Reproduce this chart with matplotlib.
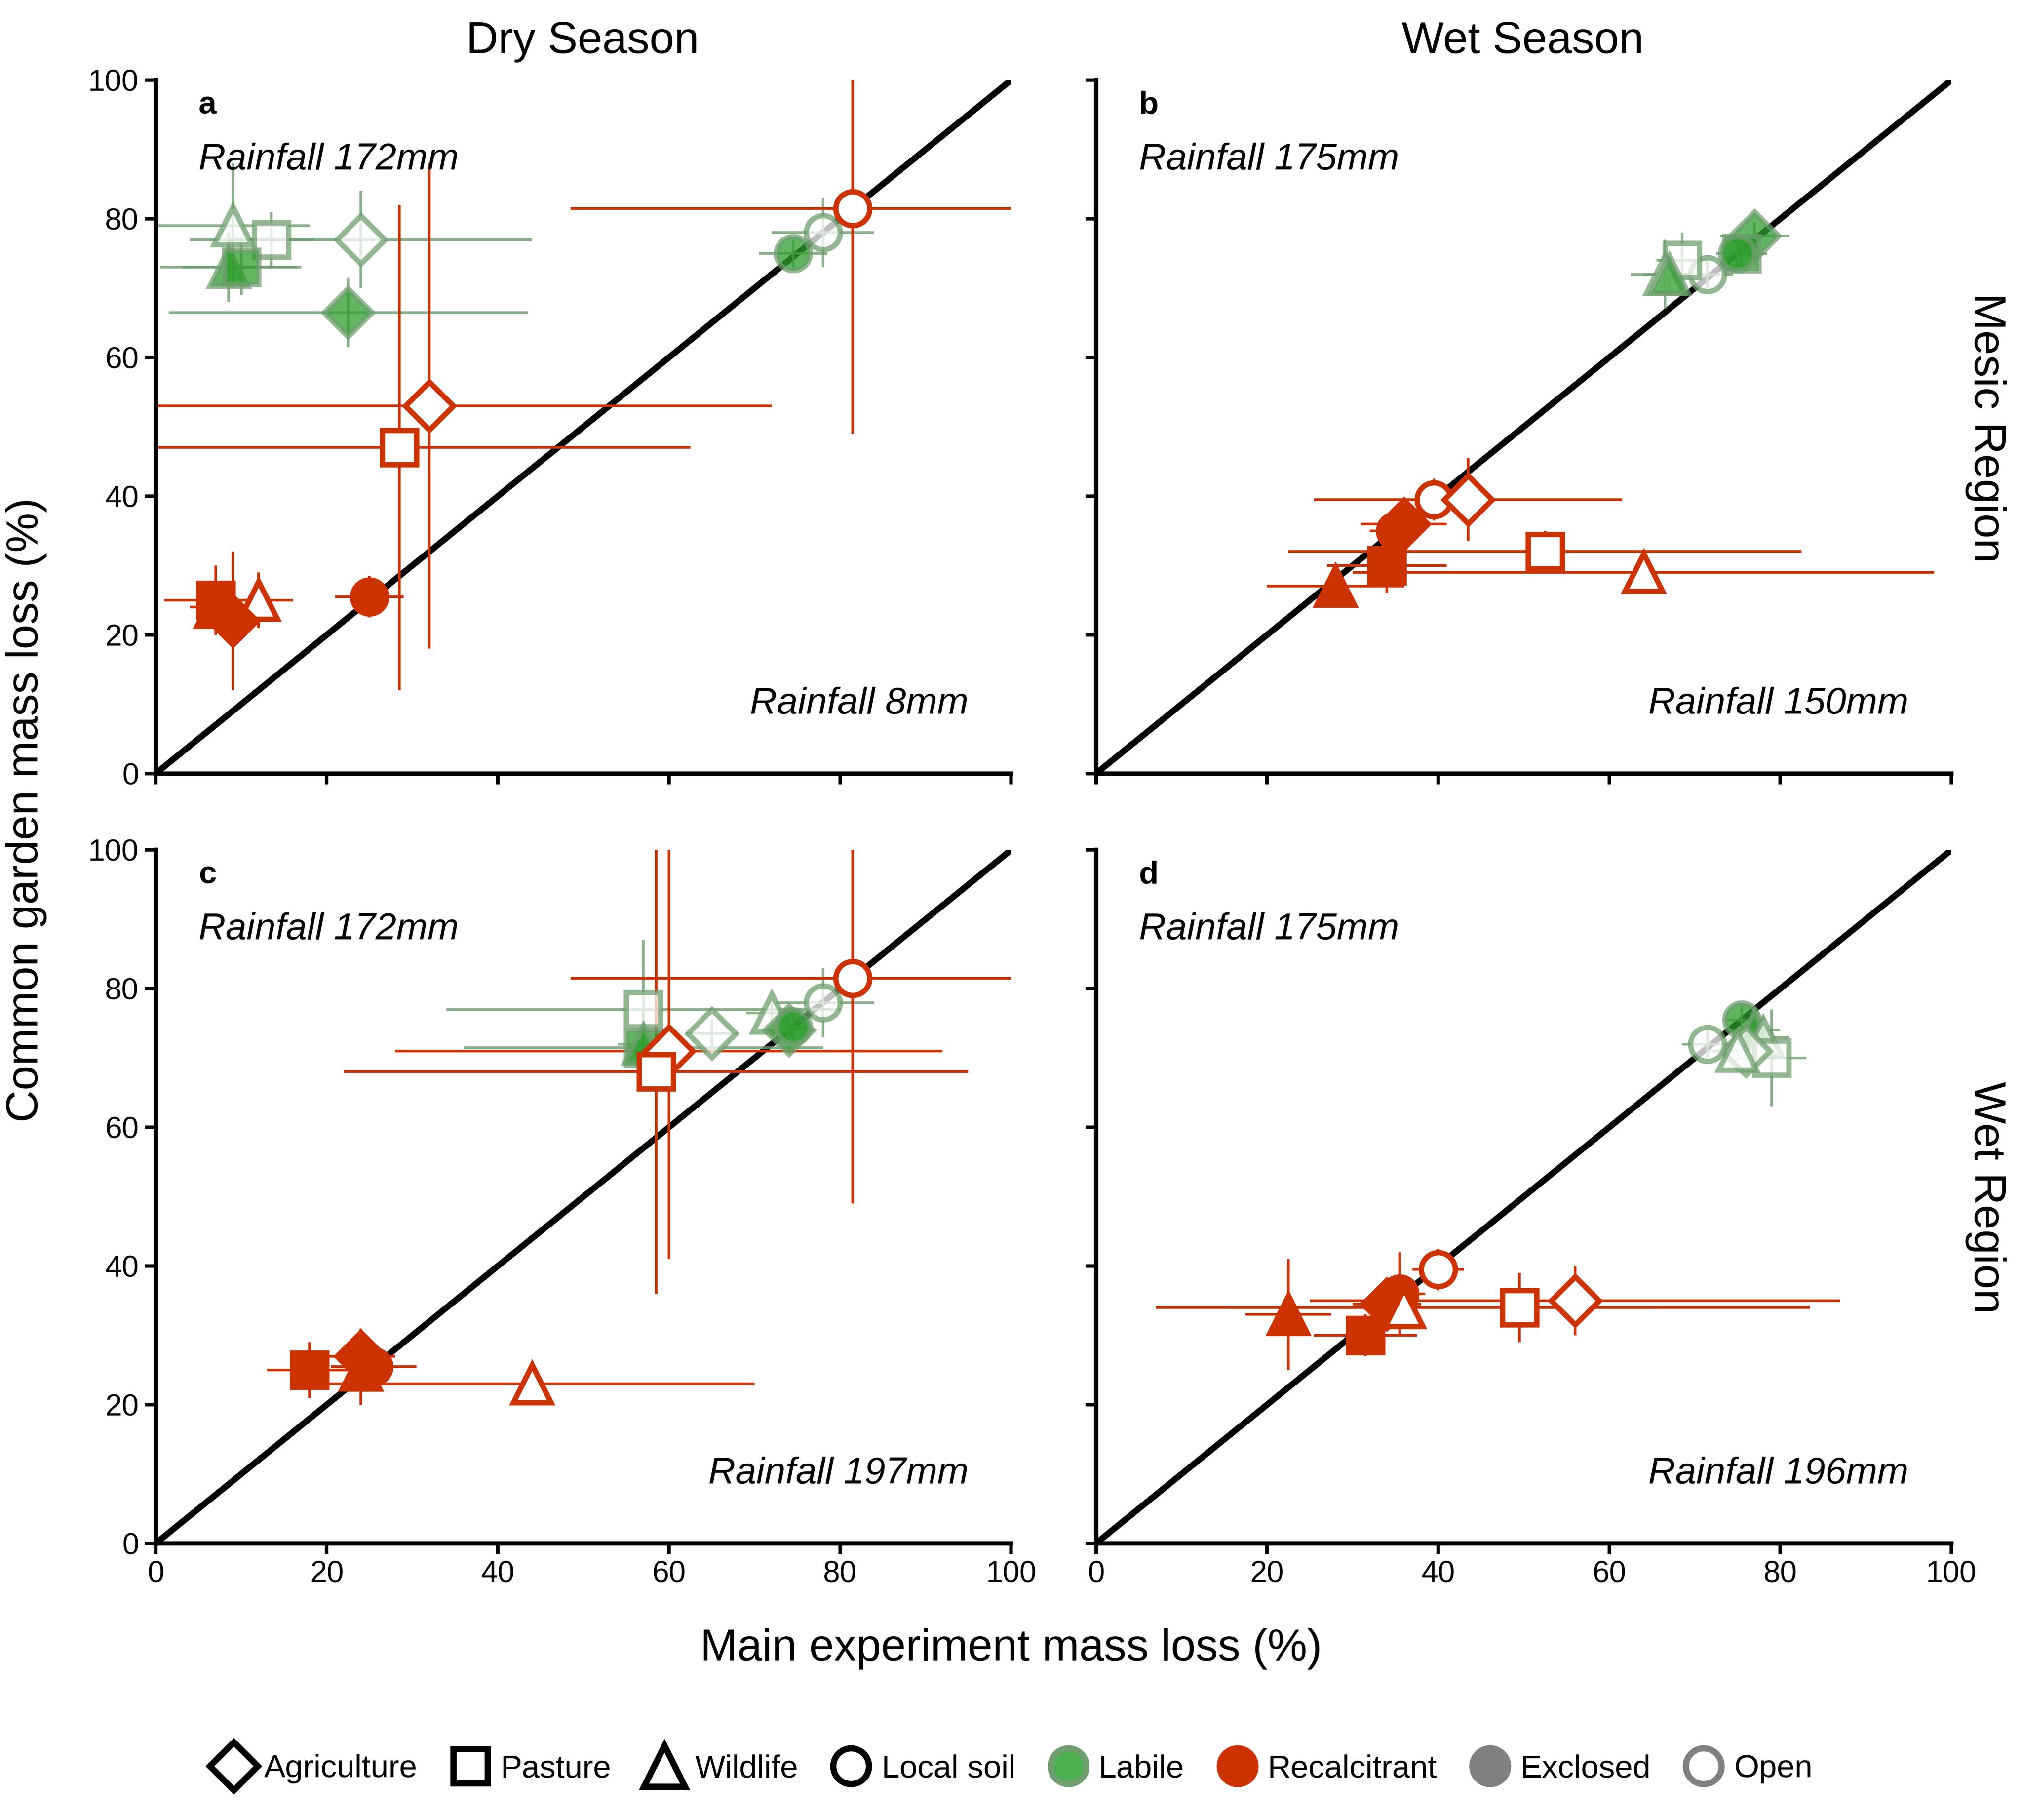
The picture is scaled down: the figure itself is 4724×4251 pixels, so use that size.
import matplotlib
matplotlib.use("Agg")
import matplotlib.pyplot as plt
from matplotlib.lines import Line2D

plt.rcParams.update({"font.family": ["Arial", "Liberation Sans", "DejaVu Sans"]})

GREEN = "#2e9e2e"
GREEN_EDGE = "#6f9f6f"
RED = "#cc3300"
MK = {"Agriculture": "D", "Pasture": "s", "Wildlife": "^", "Local soil": "o"}

# each point: (x, y, xerr, yerr, treatment, litter, exclosed)
panel_a = [
    (9, 79, 9, 9, "Wildlife", "L", False),
    (13.5, 77, 5, 4, "Pasture", "L", False),
    (24, 77, 20, 7, "Agriculture", "L", False),
    (8.5, 73, 8, 5, "Wildlife", "L", True),
    (10, 73, 7, 4, "Pasture", "L", True),
    (22.5, 66.5, 21, 5, "Agriculture", "L", True),
    (74.5, 75, 4, 2, "Local soil", "L", True),
    (78, 78, 6, 5, "Local soil", "L", False),
    (81.5, 81.5, 33, 32.5, "Local soil", "R", False),
    (32, 53, 40, 35, "Agriculture", "R", False),
    (28.5, 47, 34, 35, "Pasture", "R", False),
    (25, 25.5, 4, 3, "Local soil", "R", True),
    (12, 25, 4, 4, "Wildlife", "R", False),
    (7, 25, 6, 5, "Pasture", "R", True),
    (7, 24, 3, 3, "Wildlife", "R", True),
    (9, 22, 3, 10, "Agriculture", "R", True),
]
panel_b = [
    (77, 77.5, 4, 2, "Agriculture", "L", True),
    (75.5, 75, 3, 2, "Pasture", "L", True),
    (75, 75, 2, 2, "Local soil", "L", True),
    (71.5, 72, 3, 2, "Local soil", "L", False),
    (68.5, 74, 3, 4, "Pasture", "L", False),
    (66.5, 72, 4, 5, "Wildlife", "L", False),
    (67, 72, 3, 3, "Wildlife", "L", True),
    (39.5, 39.5, 3, 3, "Local soil", "R", False),
    (43.5, 39.5, 18, 6, "Agriculture", "R", False),
    (36, 36, 5, 3, "Agriculture", "R", True),
    (35, 35, 3, 3, "Local soil", "R", True),
    (52.5, 32, 30, 3, "Pasture", "R", False),
    (64, 29, 34, 3, "Wildlife", "R", False),
    (34, 30, 7, 4, "Pasture", "R", True),
    (28, 27, 8, 3, "Wildlife", "R", True),
]
panel_c = [
    (57, 77, 23, 10, "Pasture", "L", False),
    (57, 71.5, 21, 5, "Pasture", "L", True),
    (57, 72, 3, 3, "Wildlife", "L", True),
    (65, 73.5, 3, 2, "Agriculture", "L", False),
    (72, 76.5, 3, 2, "Wildlife", "L", False),
    (74, 74, 3, 2, "Agriculture", "L", True),
    (74.5, 74.5, 2, 2, "Local soil", "L", True),
    (78, 78, 6, 5, "Local soil", "L", False),
    (81.5, 81.5, 33, 32.5, "Local soil", "R", False),
    (60, 71, 32, 30, "Agriculture", "R", False),
    (58.5, 68, 36.5, 32, "Pasture", "R", False),
    (44, 23, 26, 3, "Wildlife", "R", False),
    (18, 25, 5, 4, "Pasture", "R", True),
    (25.5, 25.5, 5, 3, "Local soil", "R", True),
    (24, 27, 4, 4, "Agriculture", "R", True),
    (24, 25, 3, 5, "Wildlife", "R", True),
]
panel_d = [
    (75.5, 75.5, 2, 2, "Local soil", "L", True),
    (77, 74, 3, 3, "Wildlife", "L", True),
    (78, 73, 3, 3, "Wildlife", "L", False),
    (79, 70, 4, 7, "Pasture", "L", False),
    (76, 71, 3, 3, "Agriculture", "L", False),
    (71.5, 72, 3, 2, "Local soil", "L", False),
    (75, 71, 3, 3, "Wildlife", "L", False),
    (40, 39.5, 3, 3, "Local soil", "R", False),
    (56, 35, 31, 5, "Agriculture", "R", False),
    (49.5, 34, 34, 5, "Pasture", "R", False),
    (35.5, 36, 3, 6, "Local soil", "R", True),
    (34, 34.5, 4, 3, "Agriculture", "R", True),
    (36, 34, 29, 3, "Wildlife", "R", False),
    (22.5, 33, 5, 8, "Wildlife", "R", True),
    (31.5, 30, 6, 3, "Pasture", "R", True),
]
panels = [panel_a, panel_b, panel_c, panel_d]
letters = ["a", "b", "c", "d"]
rain_top = ["Rainfall 172mm", "Rainfall 175mm", "Rainfall 172mm", "Rainfall 175mm"]
rain_bottom = ["Rainfall 8mm", "Rainfall 150mm", "Rainfall 197mm", "Rainfall 196mm"]

fig = plt.figure(figsize=(15.748, 14.17), dpi=300)
boxes = [(0.077, 0.575), (0.542, 0.575), (0.077, 0.152), (0.542, 0.152)]
W, H = 0.423, 0.381

for i, pts in enumerate(panels):
    ax = fig.add_axes([boxes[i][0], boxes[i][1], W, H])
    ax.plot([0, 100], [0, 100], color="black", lw=3.5, zorder=1)
    for x, y, xe, ye, trt, lit, excl in pts:
        if lit == "L":
            ecol, alpha = GREEN_EDGE, 0.8
            face = GREEN if excl else "white"
            medge = GREEN_EDGE
        else:
            ecol, alpha = RED, 1.0
            face = RED if excl else "white"
            medge = RED
        ax.errorbar(x, y, xerr=xe, yerr=ye, fmt="none", ecolor=ecol,
                    elinewidth=1.5, alpha=alpha, zorder=2)
        ax.plot(x, y, marker=MK[trt], ms=19 if trt != "Wildlife" else 21,
                mfc=face, mec=medge, mew=3, alpha=0.75 if lit == "L" else 1.0,
                linestyle="none", zorder=3)
    ax.set_xlim(0, 100)
    ax.set_ylim(0, 100)
    ax.set_xticks(range(0, 101, 20))
    ax.set_yticks(range(0, 101, 20))
    for s in ("top", "right"):
        ax.spines[s].set_visible(False)
    for s in ("left", "bottom"):
        ax.spines[s].set_linewidth(2.5)
    ax.tick_params(labelsize=17, width=2, length=6)
    if i < 2:
        ax.tick_params(labelbottom=False)
    if i % 2 == 1:
        ax.tick_params(labelleft=False)
    ax.text(0.05, 0.985, letters[i], transform=ax.transAxes, fontsize=18,
            fontweight="bold", va="top")
    ax.text(0.05, 0.91, rain_top[i], transform=ax.transAxes, fontsize=21,
            style="italic", va="top")
    ax.text(0.95, 0.1, rain_bottom[i], transform=ax.transAxes, fontsize=21,
            style="italic", ha="right", va="center")

fig.text(0.288, 0.977, "Dry Season", fontsize=25, ha="center", va="center")
fig.text(0.753, 0.977, "Wet Season", fontsize=25, ha="center", va="center")
fig.text(0.982, 0.765, "Mesic Region", fontsize=25, rotation=-90, ha="center", va="center")
fig.text(0.982, 0.342, "Wet Region", fontsize=25, rotation=-90, ha="center", va="center")
fig.text(0.013, 0.555, "Common garden mass loss (%)", fontsize=25, rotation=90,
         ha="center", va="center")
fig.text(0.5, 0.094, "Main experiment mass loss (%)", fontsize=25, ha="center", va="center")

handles = [
    Line2D([], [], marker="D", ms=19, mfc="white", mec="black", mew=3.5, ls="none"),
    Line2D([], [], marker="s", ms=19, mfc="white", mec="black", mew=3.5, ls="none"),
    Line2D([], [], marker="^", ms=23, mfc="white", mec="black", mew=3.5, ls="none"),
    Line2D([], [], marker="o", ms=20, mfc="white", mec="black", mew=3.5, ls="none"),
    Line2D([], [], marker="o", ms=20, mfc="#4caf50", mec=GREEN_EDGE, mew=3.5, ls="none"),
    Line2D([], [], marker="o", ms=20, mfc=RED, mec=RED, mew=3.5, ls="none"),
    Line2D([], [], marker="o", ms=20, mfc="#808080", mec="#808080", mew=3.5, ls="none"),
    Line2D([], [], marker="o", ms=20, mfc="white", mec="#808080", mew=3.5, ls="none"),
]
labels = ["Agriculture", "Pasture", "Wildlife", "Local soil", "Labile",
          "Recalcitrant", "Exclosed", "Open"]
fig.legend(handles, labels, loc="center", bbox_to_anchor=(0.5, 0.028), ncol=8,
           frameon=False, fontsize=18, handletextpad=0.2, columnspacing=0.9,
           handlelength=1.5)

fig.savefig("out.png", dpi=300)
